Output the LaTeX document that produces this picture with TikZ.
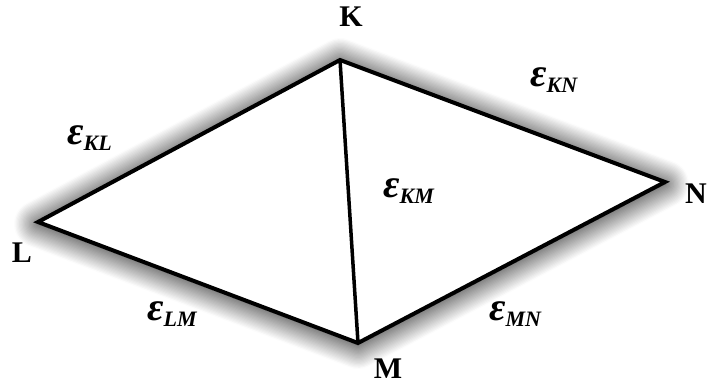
\documentclass[tikz,border=0pt]{standalone}
\usepackage{fontspec}
\setmainfont{Liberation Serif}
\usetikzlibrary{shadows.blur}

% epsilon with its subscript
\newcommand{\edgelab}[1]{{\fontsize{40}{40}\selectfont\bfseries\itshape ε}%
  \raisebox{-6pt}{\fontsize{22}{22}\selectfont\bfseries\itshape #1}}

\begin{document}
\begin{tikzpicture}[
  x=1pt, y=-1pt,
  vlabel/.style={font=\fontsize{30}{32}\selectfont\bfseries, inner sep=0pt, anchor=base},
  elabel/.style={inner sep=0pt, anchor=base west},
  edge/.style={line width=4pt, line join=miter},
  diag/.style={line width=3.5pt}
]
\useasboundingbox (0,0) rectangle (714,390);

\coordinate (K) at (340,60);
\coordinate (N) at (665,182);
\coordinate (M) at (358,343);
\coordinate (L) at (38,222);

% glow behind the outline
\path[fill=white, blur shadow={shadow xshift=0pt, shadow yshift=-2pt,
  shadow blur radius=24pt, shadow blur steps=20, shadow opacity=100}]
  (K) -- (N) -- (M) -- (L) -- cycle;
\draw[edge] (K) -- (N) -- (M) -- (L) -- cycle;
\draw[diag] (K) -- (M);

\node[vlabel] (labK) at (351,27) {K};
\node[vlabel] (labN) at (696,203) {N};
\node[vlabel] (labL) at (22,262) {L};
\node[vlabel] (labM) at (388,378) {M};

\node[elabel] (eKL) at (67,145) {\edgelab{KL}};
\node[elabel] (eKN) at (530,87) {\edgelab{KN}};
\node[elabel] (eKM) at (383,197) {\edgelab{KM}};
\node[elabel] (eLM) at (147,320) {\edgelab{LM}};
\node[elabel] (eMN) at (489,320) {\edgelab{MN}};
\end{tikzpicture}
\end{document}
